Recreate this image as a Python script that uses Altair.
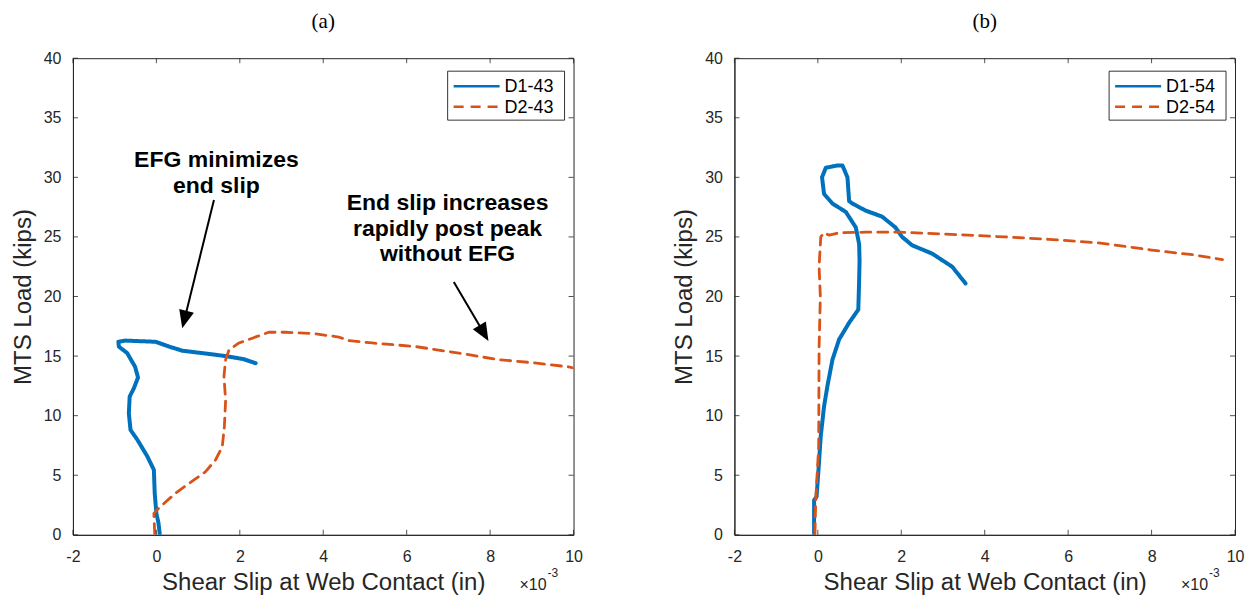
import math
import altair as alt
import pandas as pd

BLUE = "#0072BD"
ORANGE = "#D95319"
AX = "#262626"
FONT = "Liberation Sans"
W, H = 501, 477

X_DOMAIN = [-2, 10]
Y_DOMAIN = [0, 40]
X_TICKS = [-2, 0, 2, 4, 6, 8, 10]
Y_TICKS = [0, 5, 10, 15, 20, 25, 30, 35, 40]

# ---------------- panel (a) ----------------
A_NAMES = ["D1-43", "D2-43"]
A_D1_X = [0.08, 0.05, 0.0, -0.04, -0.06, -0.22, -0.46, -0.62, -0.66, -0.64, -0.54, -0.44,
          -0.51, -0.70, -0.90, -0.91, -0.74, -0.02, 0.30, 0.62, 1.10, 1.66, 2.08, 2.38]
A_D1_Y = [0.1, 1.0, 1.8, 3.5, 5.45, 6.6, 8.0, 8.8, 10.2, 11.6, 12.3, 13.2,
          14.1, 15.25, 15.8, 16.2, 16.3, 16.2, 15.8, 15.45, 15.25, 15.0, 14.75, 14.4]
A_D2_X = [-0.04, -0.06, 0.06, 0.46, 0.86, 1.18, 1.42, 1.58, 1.63, 1.66, 1.62, 1.66, 1.74,
          1.98, 2.30, 2.69, 3.09, 3.73, 4.37, 4.61, 5.17, 6.21, 7.25, 8.2, 9.0, 9.88, 10.0]
A_D2_Y = [0.1, 1.8, 2.25, 3.5, 4.5, 5.3, 6.3, 7.4, 9.1, 11.3, 13.3, 14.7, 15.5,
          16.1, 16.5, 17.0, 17.0, 16.9, 16.6, 16.3, 16.1, 15.8, 15.25, 14.7, 14.45, 14.1, 14.0]

A_ANN_TEXT = ["EFG minimizes", "end slip", "End slip increases", "rapidly post peak", "without EFG"]
A_ANN_X = [1.44, 1.44, 6.98, 6.98, 6.98]
A_ANN_Y = [30.88, 28.65, 27.25, 25.11, 22.98]
A_ARROW_X1 = [1.38, 7.13]
A_ARROW_Y1 = [28.09, 21.22]
A_ARROW_X2 = [0.62, 7.96]
A_ARROW_Y2 = [17.33, 16.27]

# ---------------- panel (b) ----------------
B_NAMES = ["D1-54", "D2-54"]
B_D1_X = [-0.09, -0.09, -0.03, 0.02, 0.07, 0.15, 0.23, 0.35, 0.51, 0.75, 0.97, 0.99, 1.0,
          0.99, 0.91, 0.67, 0.35, 0.15, 0.10, 0.19, 0.47, 0.59, 0.71, 0.75, 0.83, 1.15,
          1.54, 1.86, 2.02, 2.26, 2.74, 3.22, 3.54]
B_D1_Y = [0.1, 2.9, 3.2, 5.7, 8.3, 10.8, 12.5, 14.7, 16.4, 17.8, 18.9, 21.4, 23.0,
          24.4, 25.8, 27.1, 27.8, 28.6, 30.0, 30.8, 31.0, 31.0, 30.0, 28.0, 27.8, 27.2,
          26.7, 25.8, 25.0, 24.3, 23.6, 22.5, 21.1]
B_D2_X = [-0.07, -0.05, 0.02, 0.03, 0.06, 0.03, 0.07, 0.15, 0.27, 0.51, 1.15, 1.94, 2.98,
          4.49, 5.53, 6.73, 8.0, 9.0, 9.7]
B_D2_Y = [0.1, 3.0, 7.4, 15.8, 20.0, 22.5, 25.0, 25.35, 25.15, 25.35, 25.4, 25.4, 25.25,
          25.0, 24.8, 24.5, 23.9, 23.5, 23.1]

X_TITLE = "Shear Slip at Web Contact (in)"
Y_TITLE = "MTS Load (kips)"
ARROW_PATH = "M0,0 L0.42,1 L-0.42,1 Z"
COLORS = [BLUE, ORANGE]
DASHES = [[1, 0], [10, 7]]
WIDTHS = [4.0, 2.8]


def series_df(names, xs_list, ys_list):
    rows = []
    for name, xs, ys in zip(names, xs_list, ys_list):
        for i, (x, y) in enumerate(zip(xs, ys)):
            rows.append({"series": name, "x": x, "y": y, "i": i})
    return pd.DataFrame(rows)


def panel(title, names, xs_list, ys_list, ann=None, arrows=None):
    xs = alt.Scale(domain=X_DOMAIN, nice=False, zero=False)
    ys = alt.Scale(domain=Y_DOMAIN, nice=False, zero=False)
    df = series_df(names, xs_list, ys_list)

    lines = alt.Chart(df).mark_line(clip=True, strokeCap="round", strokeJoin="round").encode(
        x=alt.X("x:Q", scale=xs, axis=alt.Axis(values=X_TICKS, title=X_TITLE,
                                                labelExpr="'' + datum.value")),
        y=alt.Y("y:Q", scale=ys, axis=alt.Axis(values=Y_TICKS, title=Y_TITLE,
                                                labelExpr="'' + datum.value")),
        color=alt.Color("series:N", scale=alt.Scale(domain=names, range=COLORS), legend=None),
        strokeDash=alt.StrokeDash("series:N", scale=alt.Scale(domain=names, range=DASHES), legend=None),
        strokeWidth=alt.StrokeWidth("series:N", scale=alt.Scale(domain=names, range=WIDTHS), legend=None),
        order="i:Q",
    )

    xt = pd.DataFrame({"v": X_TICKS})
    yt = pd.DataFrame({"v": Y_TICKS})
    tick_bottom = alt.Chart(xt).mark_rule(color=AX, strokeWidth=0.8).encode(
        x=alt.X("v:Q", scale=xs), y=alt.value(H), y2=alt.value(H - 5))
    tick_top = alt.Chart(xt).mark_rule(color=AX, strokeWidth=0.8).encode(
        x=alt.X("v:Q", scale=xs), y=alt.value(0), y2=alt.value(5))
    tick_left = alt.Chart(yt).mark_rule(color=AX, strokeWidth=0.8).encode(
        y=alt.Y("v:Q", scale=ys), x=alt.value(0), x2=alt.value(5))
    tick_right = alt.Chart(yt).mark_rule(color=AX, strokeWidth=0.8).encode(
        y=alt.Y("v:Q", scale=ys), x=alt.value(W), x2=alt.value(W - 5))

    dummy = pd.DataFrame({"k": [0]})
    exp_base = alt.Chart(dummy).mark_text(font=FONT, fontSize=16, color=AX, align="right",
                                          baseline="alphabetic").encode(
        x=alt.value(W - 27), y=alt.value(H + 55), text=alt.value("\u00d710"))
    exp_sup = alt.Chart(dummy).mark_text(font=FONT, fontSize=12, color=AX, align="left",
                                         baseline="alphabetic").encode(
        x=alt.value(W - 26), y=alt.value(H + 42), text=alt.value("-3"))

    # legend box (drawn as marks, top-right inside the axes)
    lx0, ly0, lx1, ly1 = W - 126, 13, W - 9, 62
    box = alt.Chart(dummy).mark_rect(fill="white", stroke="black", strokeWidth=0.8).encode(
        x=alt.value(lx0), x2=alt.value(lx1), y=alt.value(ly0), y2=alt.value(ly1))
    leg_layers = [box]
    for k, name in enumerate(names):
        ry = 28 + 20.5 * k
        leg_layers.append(
            alt.Chart(dummy).mark_rule(color=COLORS[k], strokeDash=DASHES[k], strokeWidth=2.5).encode(
                x=alt.value(lx0 + 6), x2=alt.value(lx0 + 52), y=alt.value(ry)))
        leg_layers.append(
            alt.Chart(dummy).mark_text(font=FONT, fontSize=18, color="black", align="left",
                                       baseline="middle").encode(
                x=alt.value(lx0 + 57), y=alt.value(ry + 1), text=alt.value(name)))

    layers = [lines, tick_bottom, tick_top, tick_left, tick_right, exp_base, exp_sup]

    if ann is not None:
        tdf = pd.DataFrame({"t": ann[0], "x": ann[1], "y": ann[2]})
        texts = alt.Chart(tdf).mark_text(font=FONT, fontSize=23, fontWeight="bold", color="black",
                                         align="center", baseline="alphabetic").encode(
            x=alt.X("x:Q", scale=xs), y=alt.Y("y:Q", scale=ys), text="t:N")
        layers.append(texts)

    if arrows is not None:
        px = W / (X_DOMAIN[1] - X_DOMAIN[0])
        py = H / (Y_DOMAIN[1] - Y_DOMAIN[0])
        rows = []
        for x1, y1, x2, y2 in zip(*arrows):
            dxp = (x2 - x1) * px
            dyp = -(y2 - y1) * py
            ang = math.degrees(math.atan2(dxp, -dyp)) % 360
            L = math.hypot(dxp, dyp)
            back = 12.0 / L
            rx2 = x2 - (x2 - x1) * back
            ry2 = y2 - (y2 - y1) * back
            rows.append({"x1": x1, "y1": y1, "x2": x2, "y2": y2, "rx2": rx2, "ry2": ry2, "a": ang})
        adf = pd.DataFrame(rows)
        shafts = alt.Chart(adf).mark_rule(color="black", strokeWidth=2).encode(
            x=alt.X("x1:Q", scale=xs), y=alt.Y("y1:Q", scale=ys),
            x2="rx2:Q", y2="ry2:Q")
        heads = alt.Chart(adf).mark_point(shape=ARROW_PATH, filled=True, color="black",
                                          size=1296, opacity=1, strokeWidth=0).encode(
            x=alt.X("x2:Q", scale=xs), y=alt.Y("y2:Q", scale=ys),
            angle=alt.Angle("a:Q", scale=None))
        layers += [shafts, heads]

    layers += leg_layers

    return alt.layer(*layers).properties(
        width=W, height=H,
        title=alt.TitleParams(title, font="Liberation Serif", fontSize=21, fontWeight="normal",
                              color="black", anchor="middle", offset=18),
    )


pa = panel("(a)", A_NAMES, [A_D1_X, A_D2_X], [A_D1_Y, A_D2_Y],
           ann=(A_ANN_TEXT, A_ANN_X, A_ANN_Y),
           arrows=(A_ARROW_X1, A_ARROW_Y1, A_ARROW_X2, A_ARROW_Y2))
pb = panel("(b)", B_NAMES, [B_D1_X, B_D2_X], [B_D1_Y, B_D2_Y])

chart = alt.hconcat(pa, pb, spacing=88).resolve_scale(
    color="independent", strokeDash="independent", strokeWidth="independent"
).properties(
    padding={"left": 2, "top": 2, "right": 2, "bottom": 2}
).configure_view(
    stroke=AX, strokeWidth=1
).configure_axis(
    domainColor=AX, domainWidth=1, ticks=False, tickSize=0, grid=False,
    labelFont=FONT, labelFontSize=16, labelColor=AX,
    titleFont=FONT, titleFontSize=24, titleFontWeight="normal", titleColor=AX,
).configure_axisX(
    labelPadding=14, titlePadding=6, labelFlush=False,
).configure_axisY(
    labelPadding=12, titlePadding=8,
)

chart.save("out.html", embed_options={"renderer": "svg", "actions": False})
